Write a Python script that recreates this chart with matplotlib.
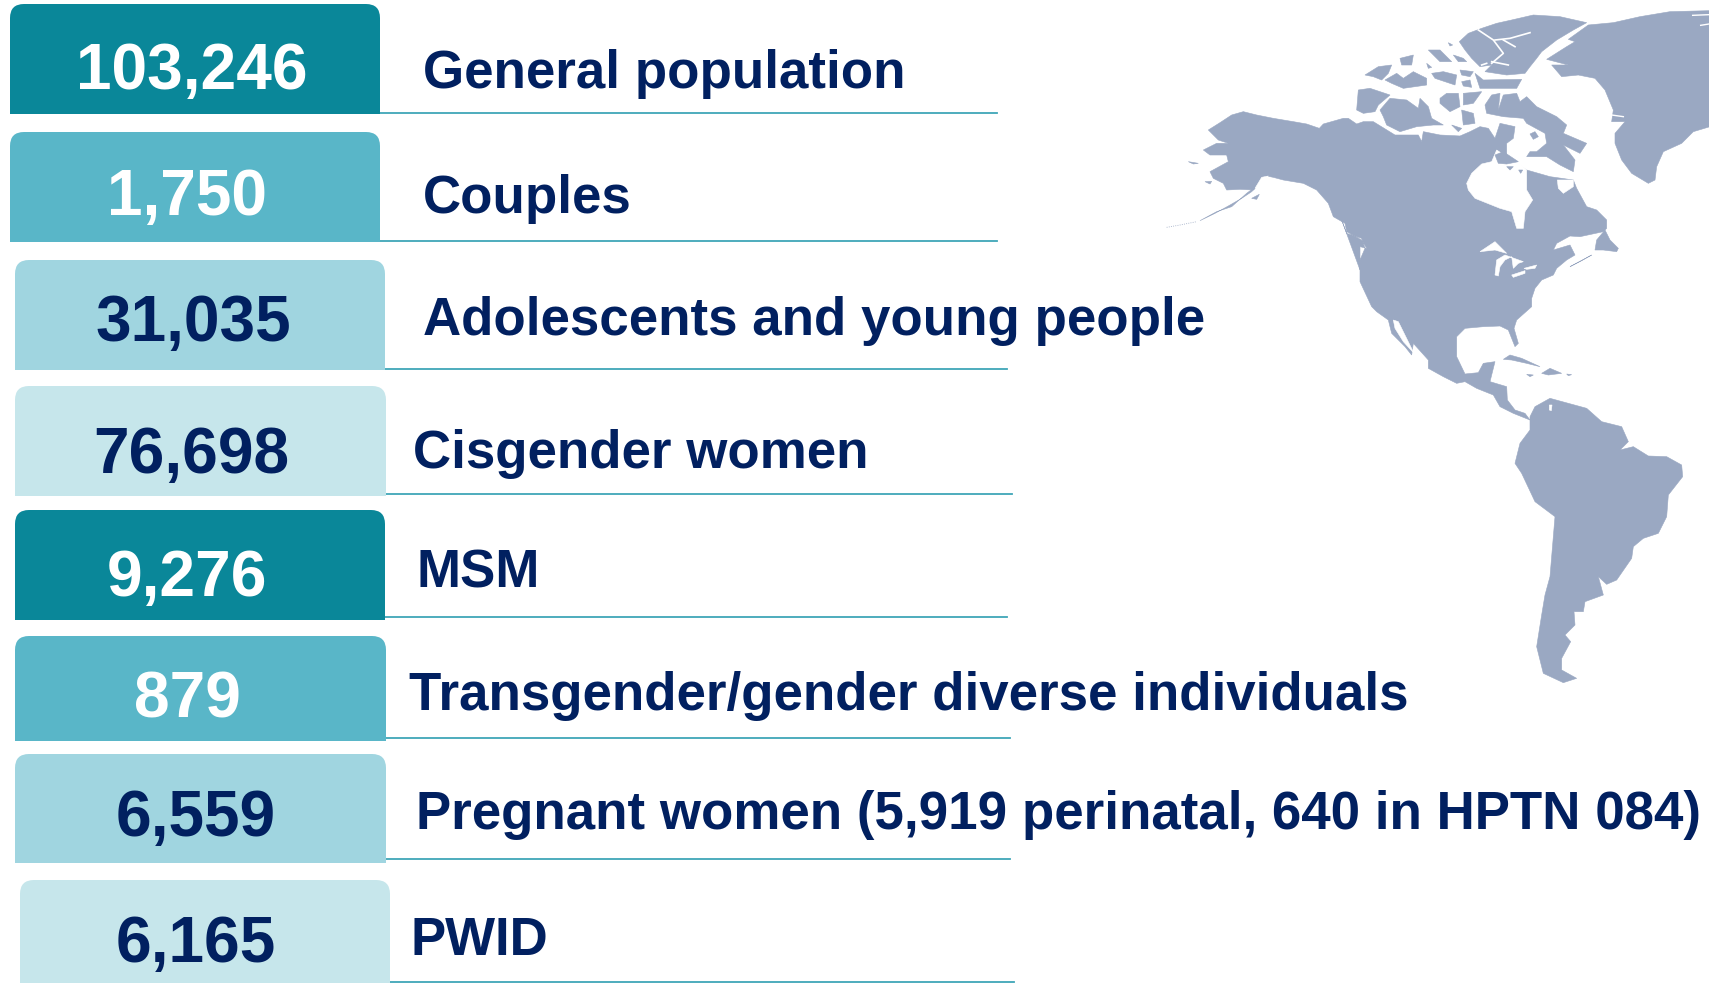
import numpy as np
import matplotlib
matplotlib.use('Agg')
import matplotlib.pyplot as plt
from matplotlib.path import Path
from matplotlib.patches import PathPatch, Polygon

# participants per population
counts = ['103,246', '1,750', '31,035', '76,698', '9,276', '879', '6,559', '6,165']
groups = ['General population', 'Couples', 'Adolescents and young people', 'Cisgender women',
          'MSM', 'Transgender/gender diverse individuals',
          'Pregnant women (5,919 perinatal, 640 in HPTN 084)', 'PWID']

# layout, all in pixels of the 1709x983 picture
card_left = [10, 10, 15, 15, 15, 15, 15, 20]
card_right = [380, 380, 385, 386, 385, 386, 386, 390]
card_top = [4, 132, 260, 386, 510, 636, 754, 880]
card_bottom = [114, 242, 370, 496, 620, 741, 863, 985]
card_colors = ['#0A8799', '#59B6C8', '#A0D5E0', '#C6E6EB'] * 2
count_colors = ['white', 'white', '#012060', '#012060'] * 2
count_x = [192, 187, 193, 191, 187, 187, 196, 196]
count_y = [89, 215, 341, 473, 596, 717, 836, 962]
label_x = [423, 423, 423, 413, 417, 409, 416, 410]
label_y = [88, 213, 335, 468, 587, 710, 829, 955]
line_y = [113, 241, 368.5, 494, 617, 738, 859, 982]
line_end = [997, 997, 1007, 1012, 1007, 1010, 1010, 1014]

MAP_BLUE = '#9AA8C2'
NAVY = '#012060'

# map outlines traced on 3x crops, each list is in the coords of its crop
CROP_A = (1160, 100)  # alaska, west coast
CROP_B = (1360, 10)   # arctic, hudson bay
CROP_C = (1340, 200)  # usa, mexico, caribbean
CROP_G = (1500, 0)    # greenland
CROP_S = (1300, 350)  # south america

north_a = [(145,90),(180,68),(215,45),(250,35),(290,45),(340,55),(400,65),(440,72),(478,85),(490,72),
           (550,55),(565,55),(590,72),(610,65)]
north_b = [(40,335),(105,375),(175,375),(185,395),(190,365),(240,375),(300,378),(330,365),(360,350),(385,355),
           (405,385),(420,340),(465,350),(460,385),(440,400),(440,440),(500,480),(570,500),(640,510),(650,535),
           (680,590)]
east_c = [(770,30),(800,60),(800,85),(790,95),(720,110),(690,108),(650,130),(640,150),(690,135),(705,165),
          (680,180),(650,205),(640,225),(605,240),(585,265),(575,295),(575,320),(530,360),(522,385),(535,430),
          (525,440),(505,390),(480,378),(430,380),(375,385),(350,410),(350,470),(375,522),(415,518),(430,490),
          (465,485),(450,545),(500,560),(502,600),(525,630),(555,640),(570,660),(520,640),(480,620),(460,585),
          (410,565),(375,545),(350,550),(310,530),(265,505),(265,480),(220,430),(215,465),(195,440),(165,410),
          (155,400),(145,360),(110,335),(95,320),(60,245),(60,180),(75,145),(65,115),(20,100),(5,60)]
west_a = [(600,510),(600,440),(620,445),(605,420),(560,395),(555,370),(520,350),(505,310),(470,270),(430,250),
          (370,240),(340,232),(320,228),(300,250),(280,270),(240,268),(200,270),(190,250),(160,235),(150,215),
          (205,185),(200,165),(150,165),(130,150),(170,130),(205,130),(175,120)]
alaska_tail = [(300,250),(275,275),(245,295),(205,318),(165,340),(120,362),(170,335),(215,320),(260,280)]
alaska_bits = [[(275,295),(298,283),(290,298)],[(85,185),(115,190),(100,192)],[(135,245),(155,244),(150,252)]]
aleutians = [(20,382),(60,375),(110,365)]
cook_inlet = [(305,232),(325,228),(300,262),(285,265)]

baffin = [(375,285),(395,255),(420,250),(415,300),(430,255),(470,250),(480,275),(500,260),(530,290),(590,320),
          (620,345),(610,370),(680,400),(660,430),(640,420),(610,405),(645,450),(640,485),(600,465),(560,440),
          (500,440),(510,425),(530,425),(560,400),(555,370),(500,340),(490,325),(430,320),(380,310)]
arctic_islands = [
    [(-10,300),(-5,240),(30,235),(90,255),(55,285),(45,305),(10,310)],
    [(60,300),(90,265),(140,270),(175,295),(180,265),(205,290),(215,325),(250,345),(220,345),(170,350),(120,365),(80,345),(70,320)],
    [(240,265),(260,250),(295,250),(300,290),(270,305),(240,280)],
    [(310,250),(365,245),(340,280),(310,285)],
    [(305,300),(340,310),(345,340),(310,345)],
    [(275,345),(305,355),(295,365)],
    [(15,195),(55,170),(95,165),(85,190),(65,210),(40,200)],
    [(75,210),(110,190),(130,205),(160,185),(200,205),(200,225),(130,235),(95,220)],
    [(120,145),(160,135),(155,165),(125,165)],
    [(205,120),(240,120),(275,155),(240,155)],
    [(200,160),(215,172),(205,175)],
    [(280,135),(310,145),(320,155),(295,155)],
    [(265,98),(278,105),(270,108)],
    [(215,190),(250,185),(290,195),(285,225),(255,215),(225,205)],
    [(300,180),(340,185),(330,200),(305,195)],
    [(345,190),(370,210),(485,208),(470,235),(360,235)],
    [(305,215),(330,210),(335,232),(310,228)],
    [(298,95),(325,70),(365,55),(410,40),(455,30),(520,15),(600,20),(680,38),(640,60),(590,90),(545,125),(530,145),
     (510,170),(495,190),(440,195),(375,185),(395,165),(360,170),(335,145),(315,120)],
]
ellesmere_fjords = [[(355,60),(400,90),(430,130),(395,160)], [(405,90),(450,85),(510,68)],
                    [(430,90),(465,110)], [(395,155),(445,165)], [(365,165),(380,160)]]
hudson_bay = [(320,520),(335,490),(365,462),(395,455),(410,420),(440,440),(475,455),(500,480),(500,540),(518,570),
              (495,605),(490,655),(470,655),(455,605),(420,595),(345,565),(325,540)]
ungava_bay = [(592,510),(640,510),(640,530),(610,550),(595,535)]
bay_islands = [[(405,435),(430,425),(475,455),(440,462),(415,460)],
               [(440,470),(460,470),(450,480)], [(476,480),(488,480),(482,490)]]
foxe_island = [(510,372),(525,365),(535,380),(520,388)]

lakes = [[(420,155),(465,125),(500,160),(465,150)],
         [(465,225),(470,180),(495,165),(550,185),(535,190),(520,205),(515,170),(495,180),(480,200),(475,228)],
         [(515,225),(555,212),(555,220),(520,232)],
         [(552,205),(590,195),(585,205),(560,208)],
         [(160,360),(175,365),(222,460),(190,425),(165,385)]]
newfoundland = [(770,120),(795,90),(810,120),(835,145),(830,155),(790,150),(765,150)]
nova_scotia = [(690,200),(755,165),(725,182)]
caribbean = [[(490,478),(510,465),(545,475),(600,500),(560,490),(515,480)],
             [(605,520),(630,505),(665,520),(625,525)],
             [(560,523),(580,525),(570,530)],
             [(680,522),(695,524),(685,527)]]

greenland = [(140,178),(200,140),(225,125),(205,118),(265,75),(340,68),(420,50),(510,35),(630,32),(630,380),
             (580,395),(545,430),(490,455),(470,500),(465,540),(445,550),(395,520),(365,480),(345,430),(345,400),
             (375,365),(335,365),(340,330),(315,270),(285,235),(235,225),(185,230),(155,195),(205,195)]
greenland_fjords = [[(578,46),(627,44)], [(602,76),(627,72)], [(335,345),(370,350)]]

south_america = [(690,200),(705,170),(750,145),(860,175),(905,215),(965,230),(985,275),(960,300),(1000,290),(1045,318),
                 (1100,320),(1145,345),(1148,380),(1105,435),(1100,500),(1075,550),(1030,565),(1000,590),(995,625),
                 (950,690),(920,703),(895,680),(910,735),(855,755),(850,785),(822,785),(825,825),(795,855),
                 (812,875),(785,925),(785,960),(830,985),(790,998),(730,970),(710,890),(725,795),(735,735),
                 (750,680),(765,500),(705,455),(665,370),(645,340),(660,280),(690,240)]
maracaibo = [(748,165),(756,165),(754,182),(748,180)]


def crop(pts, origin):
    pts = np.array(pts, dtype=float)
    return np.column_stack([origin[0] + pts[:, 0] / 3, origin[1] + pts[:, 1] / 3])


def card_path(l, r, t, b, rad=14):
    verts = [(l, b), (l, t + rad), (l, t), (l + rad, t), (r - rad, t), (r, t), (r, t + rad), (r, b), (l, b)]
    codes = [Path.MOVETO, Path.LINETO, Path.CURVE3, Path.CURVE3, Path.LINETO,
             Path.CURVE3, Path.CURVE3, Path.LINETO, Path.CLOSEPOLY]
    return Path(verts, codes)


def blob(ax, pts, origin, color=MAP_BLUE, z=1):
    ax.add_patch(Polygon(crop(pts, origin), closed=True, fc=color, ec=color, lw=0.4, zorder=z))


plt.rcParams['font.family'] = ['Liberation Sans', 'DejaVu Sans']
fig = plt.figure(figsize=(17.09, 9.83), dpi=100)
ax = fig.add_axes([0, 0, 1, 1])
ax.set_xlim(0, 1709)
ax.set_ylim(983, 0)
ax.axis('off')

# land first, then water cut out of it, then islands in the water
mainland = np.vstack([crop(north_a, CROP_A), crop(north_b, CROP_B), crop(east_c, CROP_C), crop(west_a, CROP_A)])
ax.add_patch(Polygon(mainland, closed=True, fc=MAP_BLUE, ec=MAP_BLUE, lw=0.4, zorder=1))
blob(ax, alaska_tail, CROP_A)
for shape in alaska_bits:
    blob(ax, shape, CROP_A)
xy = crop(aleutians, CROP_A)
ax.plot(xy[:, 0], xy[:, 1], color=MAP_BLUE, lw=0.6, ls=':', zorder=1)
blob(ax, baffin, CROP_B)
for shape in arctic_islands:
    blob(ax, shape, CROP_B)
blob(ax, newfoundland, CROP_C)
blob(ax, nova_scotia, CROP_C)
for shape in caribbean:
    blob(ax, shape, CROP_C)
blob(ax, greenland, CROP_G)
blob(ax, south_america, CROP_S)

blob(ax, hudson_bay, CROP_B, 'white', 2)
blob(ax, ungava_bay, CROP_B, 'white', 2)
blob(ax, cook_inlet, CROP_A, 'white', 2)
blob(ax, maracaibo, CROP_S, 'white', 2)
for shape in lakes:
    blob(ax, shape, CROP_C, 'white', 2)
for shape in bay_islands:
    blob(ax, shape, CROP_B, MAP_BLUE, 3)
blob(ax, foxe_island, CROP_B, MAP_BLUE, 3)
for fjord in ellesmere_fjords:
    xy = crop(fjord, CROP_B)
    ax.plot(xy[:, 0], xy[:, 1], color='white', lw=1.2, zorder=2)
for fjord in greenland_fjords:
    xy = crop(fjord, CROP_G)
    ax.plot(xy[:, 0], xy[:, 1], color='white', lw=1.0, zorder=2)

for i in range(len(counts)):
    ax.plot([card_right[i], line_end[i]], [line_y[i], line_y[i]], color='#3FA6B8', lw=1.3, zorder=4)
    ax.add_patch(PathPatch(card_path(card_left[i], card_right[i], card_top[i], card_bottom[i]),
                           fc=card_colors[i], ec='none', zorder=5))
    ax.text(count_x[i], count_y[i], counts[i], ha='center', va='baseline', fontsize=46.1,
            fontweight='bold', color=count_colors[i], zorder=6)
    ax.text(label_x[i], label_y[i], groups[i], ha='left', va='baseline', fontsize=38.1,
            fontweight='bold', color=NAVY, zorder=6)

fig.savefig('out.png', dpi=100)
